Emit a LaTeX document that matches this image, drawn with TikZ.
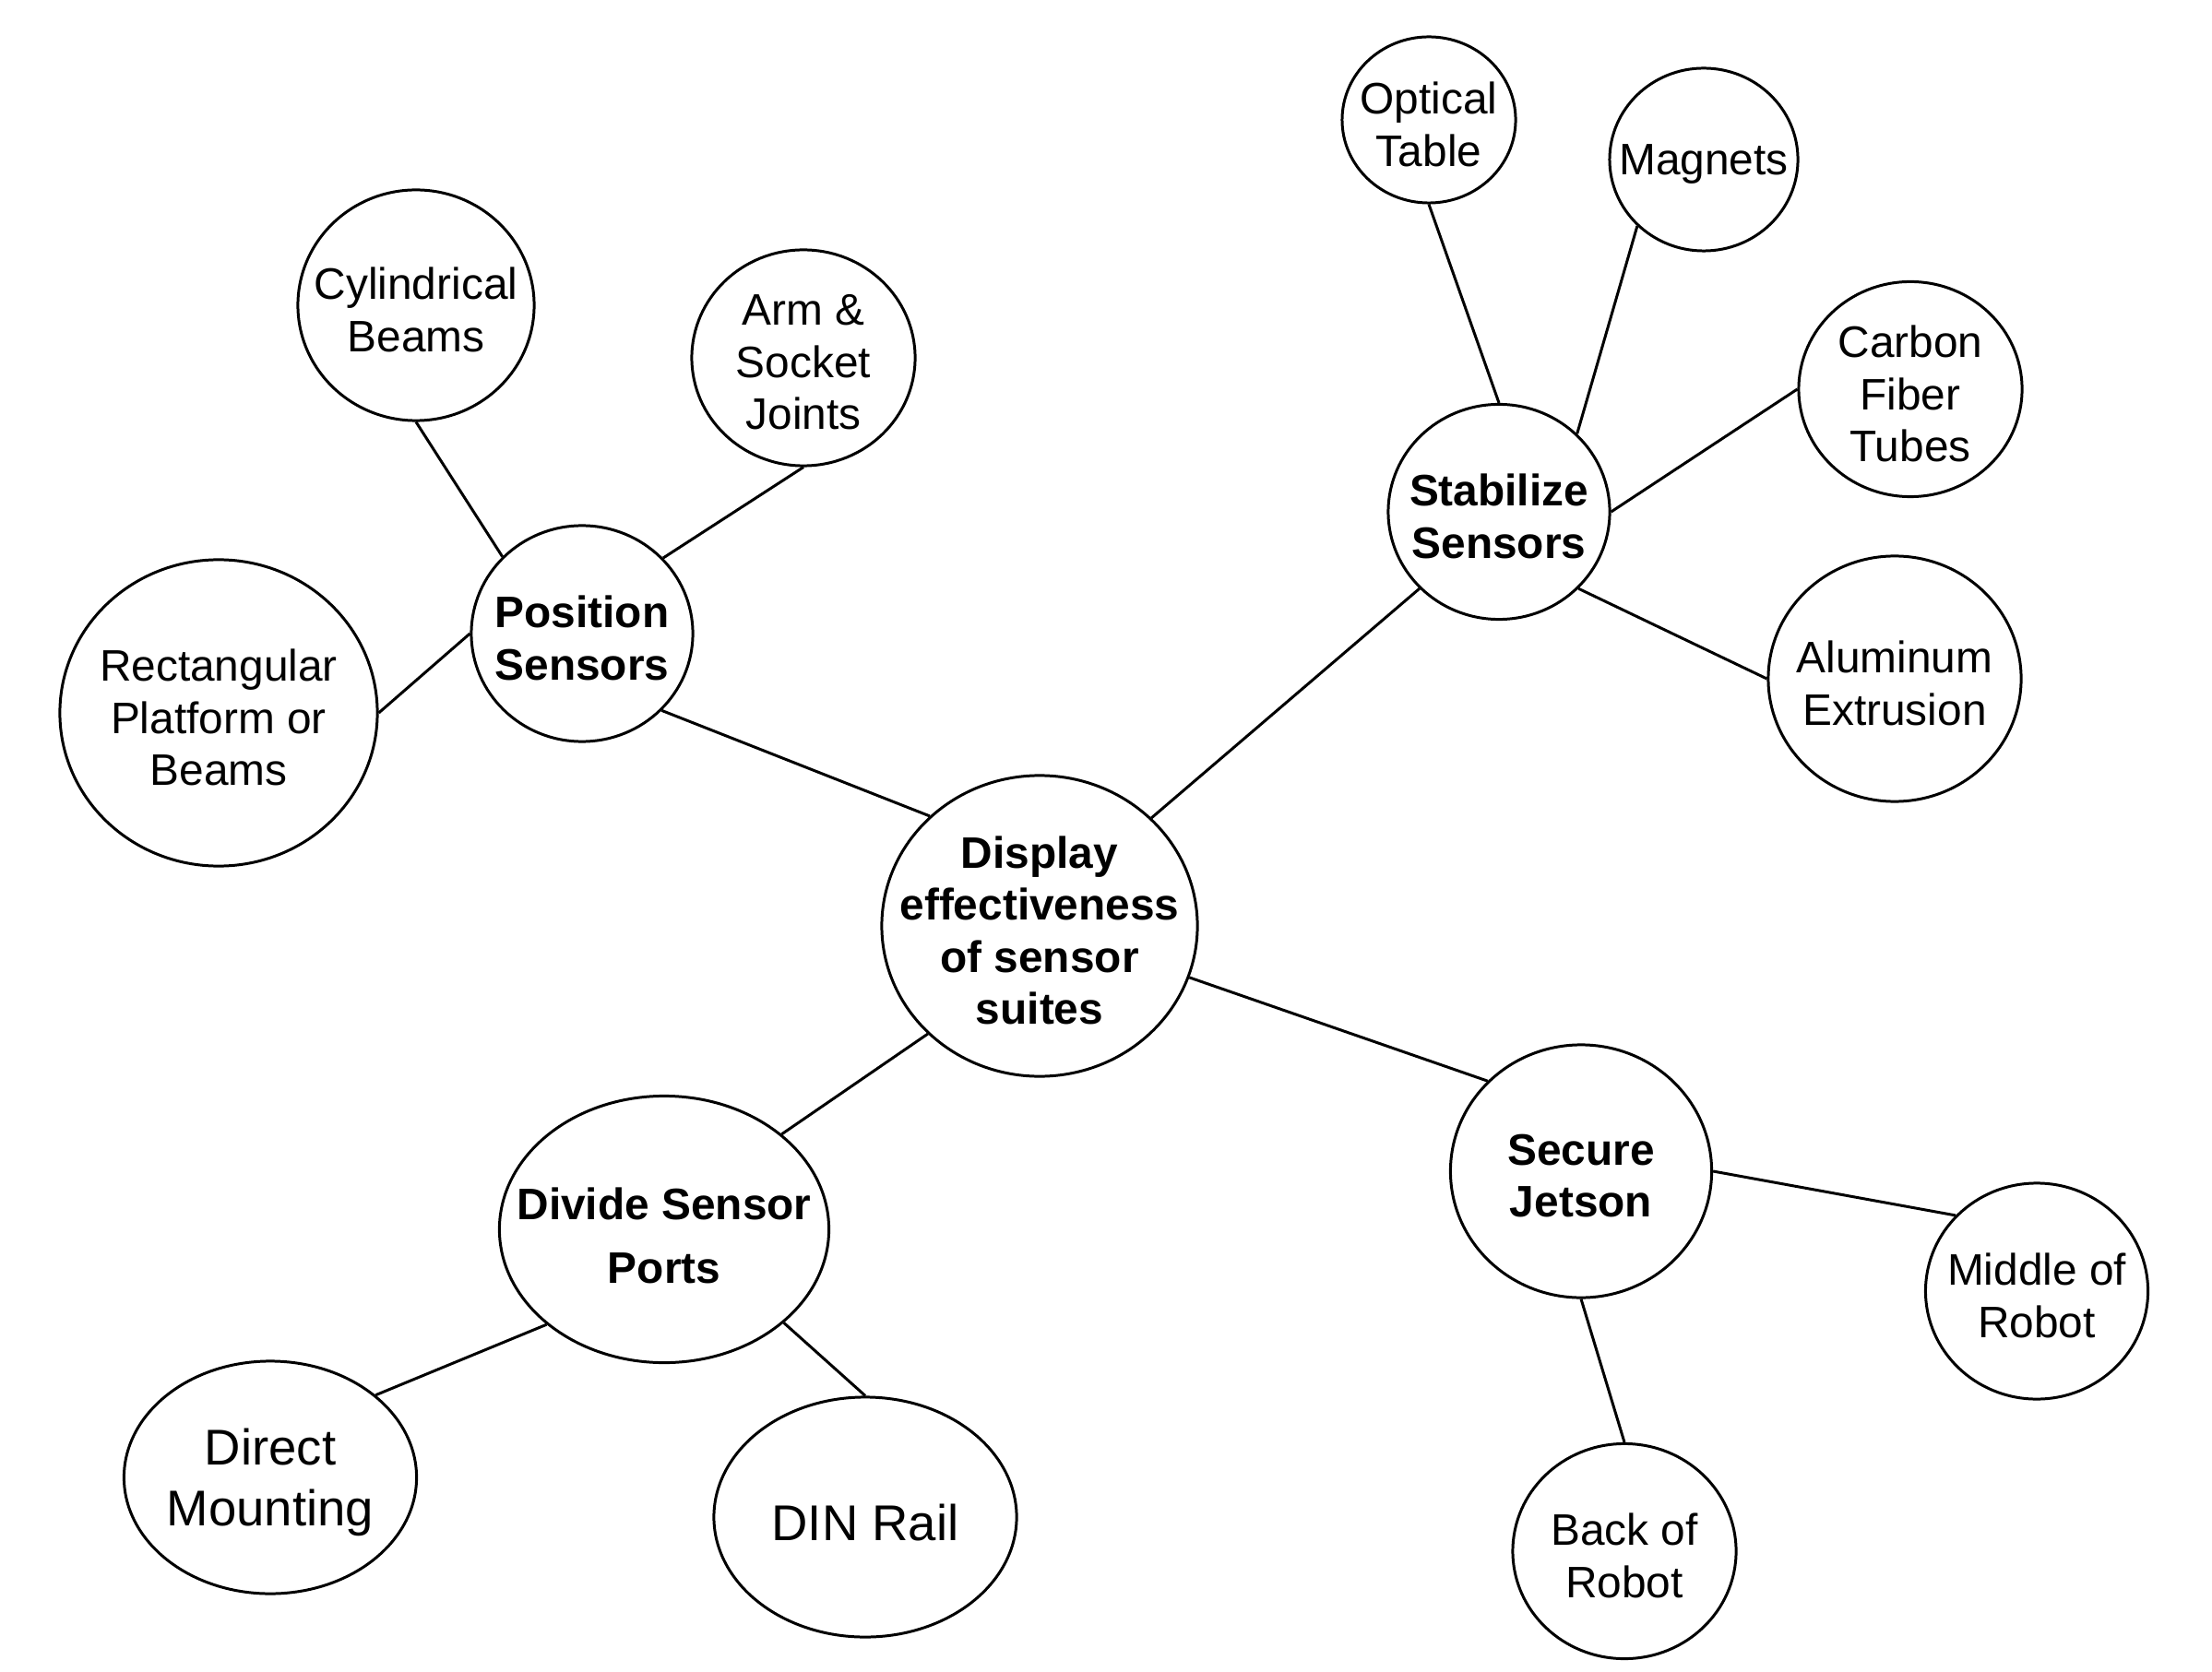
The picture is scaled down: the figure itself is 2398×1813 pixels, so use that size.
\documentclass[tikz,border=0pt]{standalone}
\usepackage{fontspec}
\setmainfont{Liberation Sans}
\usetikzlibrary{shapes.geometric}
\tikzset{
  bubble/.style={draw, ellipse, line width=0.85pt, inner sep=0pt},
  leaftext/.style={align=center, yshift=-1.4pt, font=\fontsize{13.6}{16}\selectfont},
  topictext/.style={align=center, yshift=-1.4pt, font=\bfseries\fontsize{13.6}{16}\selectfont},
  portstext/.style={align=center, yshift=-2pt, font=\bfseries\fontsize{13.6}{19.5}\selectfont},
  bigtext/.style={align=center, yshift=-1.6pt, font=\fontsize{15.5}{18.8}\selectfont},
  link/.style={line width=0.85pt},
}
\begin{document}
\begin{tikzpicture}[x=0.01cm, y=-0.01cm]
  \useasboundingbox (0,0) rectangle (2398,1813);
  \foreach \name/\x/\y/\w/\h/\sty/\txt in {
      disp/1127/1004/3.42/3.26/topictext/{Display\\effectiveness\\of sensor\\suites},
      pos/631/687/2.40/2.34/topictext/{Position\\Sensors},
      cyl/451/331/2.56/2.50/leaftext/{Cylindrical\\Beams},
      arm/871/388/2.42/2.34/leaftext/{Arm \&\\Socket\\Joints},
      rect/237/773/3.44/3.32/leaftext/{Rectangular\\Platform or\\Beams},
      stab/1625/555/2.40/2.33/topictext/{Stabilize\\Sensors},
      opt/1549/130/1.88/1.80/leaftext/{Optical\\Table},
      mag/1847/173/2.04/1.98/leaftext/{Magnets},
      carb/2071/422/2.42/2.33/leaftext/{Carbon\\Fiber\\Tubes},
      alu/2054/736/2.74/2.66/leaftext/{Aluminum\\Extrusion},
      sec/1714/1270/2.83/2.74/topictext/{Secure\\Jetson},
      mid/2208/1400/2.41/2.34/leaftext/{Middle of\\Robot},
      back/1761/1682/2.42/2.33/leaftext/{Back of\\Robot},
      div/720/1333/3.57/2.89/portstext/{Divide Sensor\\Ports},
      dir/293/1602/3.17/2.52/bigtext/{Direct\\Mounting},
      din/938/1645/3.28/2.60/bigtext/{DIN Rail}}{
    \node[bubble, minimum width=\w cm, minimum height=\h cm, label={[\sty]center:\txt}] (\name) at (\x,\y) {};
  }
  \foreach \a/\b in {pos.136/cyl.south, pos.43/arm.south, pos.west/rect.east,
      disp.135/pos.-44, disp.44/stab.224, stab.north/opt.south, stab.45/mag.225,
      stab.east/carb.west, stab.-44/alu.west, disp.224/div.39, div.219/dir.38,
      div.-38/din.north, disp.-19/sec.136, sec.east/mid.137, sec.south/back.north}
    \draw[link] (\a) -- (\b);
\end{tikzpicture}
\end{document}
